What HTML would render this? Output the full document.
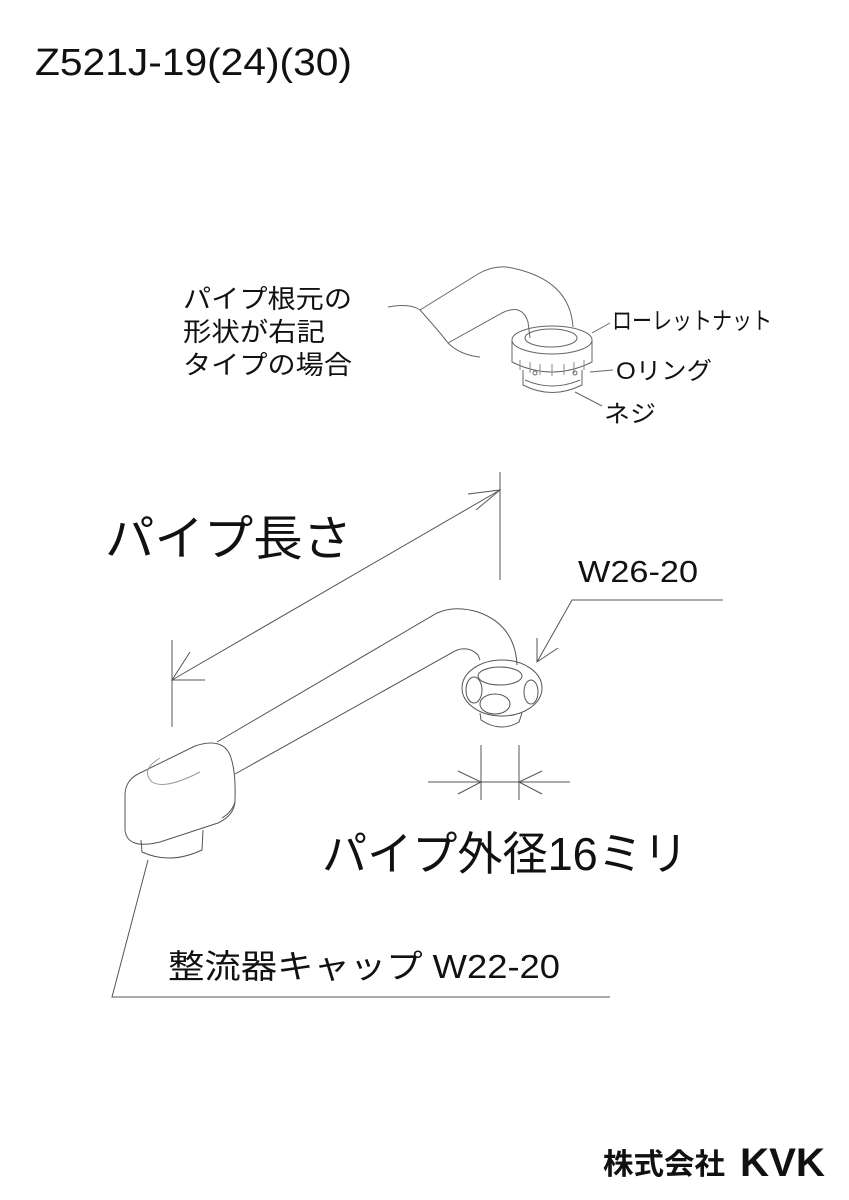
<!DOCTYPE html>
<html><head><meta charset="utf-8"><style>
body{margin:0;background:#fff}
svg{display:block}
text{font-family:"Liberation Sans","Noto Sans CJK JP",sans-serif;fill:#111}
</style></head><body>
<svg width="849" height="1200" viewBox="0 0 849 1200" xmlns="http://www.w3.org/2000/svg">
<text x="35" y="75" font-size="38" textLength="317" lengthAdjust="spacingAndGlyphs">Z521J-19(24)(30)</text>

<g font-size="26">
<text x="183" y="308" textLength="169" lengthAdjust="spacingAndGlyphs">パイプ根元の</text>
<text x="183" y="341" textLength="142" lengthAdjust="spacingAndGlyphs">形状が右記</text>
<text x="183" y="374" textLength="169" lengthAdjust="spacingAndGlyphs">タイプの場合</text>
</g>
<g font-size="24">
<text x="612" y="329" textLength="160" lengthAdjust="spacingAndGlyphs">ローレットナット</text>
<text x="616" y="379" textLength="96" lengthAdjust="spacingAndGlyphs">Oリング</text>
<text x="604" y="422" textLength="52" lengthAdjust="spacingAndGlyphs">ネジ</text>
</g>
<g fill="none" stroke="#666" stroke-width="1">
<path d="M388 307 Q410 303 420 310 Q438 330 448 343 Q460 355 480 357"/>
<path d="M420 310 L478 274 Q495 264 512 268 Q570 280 573 327"/>
<path d="M448 343 L502 313 Q522 303 528 322 L530 338"/>
<ellipse cx="552" cy="340" rx="40" ry="14"/>
<ellipse cx="551" cy="338" rx="26" ry="9"/>
<path d="M512 340 L512 362 Q552 382 592 362 L592 340"/>
<g stroke="#888">
<line x1="520" y1="360" x2="520" y2="370"/><line x1="530" y1="362" x2="530" y2="373"/><line x1="540" y1="364" x2="540" y2="375"/><line x1="552" y1="364" x2="552" y2="376"/><line x1="564" y1="364" x2="564" y2="375"/><line x1="574" y1="362" x2="574" y2="373"/><line x1="584" y1="360" x2="584" y2="370"/>
</g>
<path d="M523 370 L523 385 Q552 400 582 385 L582 370"/>
<path d="M525 380 Q552 392 580 380"/>
<circle cx="535" cy="373" r="2"/><circle cx="575" cy="373" r="2"/>
<line x1="592" y1="333" x2="610" y2="323"/>
<line x1="590" y1="372" x2="613" y2="370"/>
<line x1="575" y1="392" x2="602" y2="406"/>
</g>

<text x="105" y="555" font-size="48" textLength="247" lengthAdjust="spacingAndGlyphs">パイプ長さ</text>
<text x="578" y="582" font-size="31" textLength="120" lengthAdjust="spacingAndGlyphs">W26-20</text>
<text x="322" y="870" font-size="46" textLength="366" lengthAdjust="spacingAndGlyphs">パイプ外径16ミリ</text>
<text x="168" y="978" font-size="33" textLength="392" lengthAdjust="spacingAndGlyphs">整流器キャップ  W22-20</text>

<g fill="none" stroke="#555" stroke-width="1">
<line x1="500" y1="472" x2="500" y2="580"/>
<line x1="172" y1="640" x2="172" y2="727"/>
<line x1="500" y1="490" x2="172" y2="680"/>
<line x1="172" y1="680" x2="205" y2="680"/>
<path d="M468 494 L500 490 L476 510"/>
<path d="M190 652 L172 680 L205 680"/>
<path d="M723 600 L572 600 L537 662"/>
<path d="M537 638 L537 662 L558 648"/>
<line x1="481" y1="745" x2="481" y2="800"/>
<line x1="519" y1="745" x2="519" y2="800"/>
<line x1="428" y1="782" x2="570" y2="782"/>
<path d="M458 771 L481 782 L458 794"/>
<path d="M542 771 L519 782 L542 794"/>
<path d="M148 860 L112 997 L610 997"/>
</g>

<g fill="none" stroke="#555" stroke-width="1">
<path d="M217 742 L437 613 Q455 605 478 612 Q515 625 517 665"/>
<path d="M235 774 L455 651 Q468 645 478 655 L480 660"/>
<ellipse cx="502" cy="688" rx="40" ry="28"/>
<ellipse cx="500" cy="676" rx="22" ry="9"/>
<ellipse cx="495" cy="704" rx="15" ry="10"/>
<ellipse cx="474" cy="690" rx="8" ry="13"/>
<ellipse cx="531" cy="692" rx="7" ry="12"/>
<path d="M480 713 L481 720 Q500 733 519 722 L522 713"/>
<path d="M125 795 Q125 780 140 773 L195 746 Q222 737 230 755 Q236 770 235 800 Q235 815 218 823 L160 842 Q127 850 125 830 Z"/>
<path d="M235 802 Q232 812 222 818"/>
<path d="M160 758 Q140 770 152 782 Q165 790 200 772" stroke="#999"/>
<path d="M141 840 L142 852 Q170 865 202 850 L203 830"/>
</g>

<text x="603" y="1174" font-size="29" font-weight="bold" textLength="122" lengthAdjust="spacingAndGlyphs">株式会社</text>
<text x="740" y="1176" font-size="40" font-weight="bold" textLength="85" lengthAdjust="spacingAndGlyphs">KVK</text>
</svg>
</body></html>
